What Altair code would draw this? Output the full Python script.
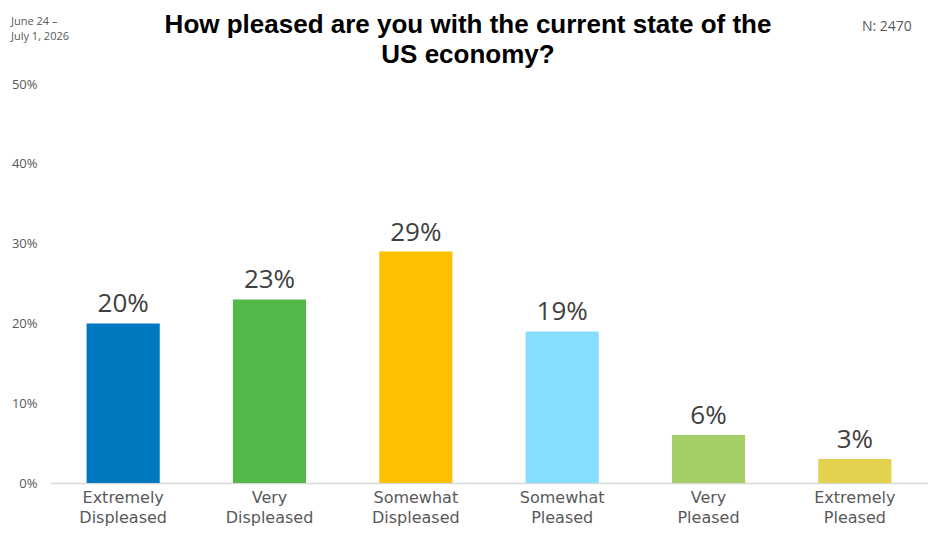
import altair as alt
import pandas as pd

categories = ["Extremely Displeased", "Very Displeased", "Somewhat Displeased",
              "Somewhat Pleased", "Very Pleased", "Extremely Pleased"]
values = [20, 23, 29, 19, 6, 3]
colors = ["#0079C1", "#52B848", "#FFC000", "#85DEFF", "#A3CF66", "#E2D24E"]
y_ticks = [0, 10, 20, 30, 40, 50]
title_lines = ["How pleased are you with the current state of the", "US economy?"]

df = pd.DataFrame({"category": categories, "value": values, "color": colors,
                   "label": [f"{v}%" for v in values]})

FONT = "Open Sans"

x = alt.X("category:N", sort=categories, title=None,
          scale=alt.Scale(paddingInner=0.5, paddingOuter=0.25),
          axis=alt.Axis(labelAngle=0, labelExpr="split(datum.label, ' ')",
                        labelFontSize=16, labelColor="#595959", labelFont="DejaVu Sans",
                        labelLineHeight=20, labelPadding=6, ticks=False,
                        domainColor="#D9D9D9", domainWidth=1.5, grid=False,
                        labelBaseline="top"))
y = alt.Y("value:Q", title=None,
          scale=alt.Scale(domain=[0, 50], nice=False),
          axis=alt.Axis(values=y_ticks, labelExpr="datum.value + '%'",
                        labelFontSize=13, labelColor="#595959", labelFont=FONT,
                        ticks=False, domain=False, grid=False, labelPadding=13))

base = alt.Chart(df)
bars = base.mark_bar().encode(x=x, y=y, color=alt.Color("color:N", scale=None))
labels = base.mark_text(fontSize=26, color="#404040", font=FONT, baseline="alphabetic",
                        dy=-11).encode(x=x, y=y, text="label:N")

date = alt.Chart(pd.DataFrame({"t": ["June 24 –\nJuly 1, 2026"]})).mark_text(
    fontSize=11, color="#595959", font=FONT, align="left", baseline="top",
    lineBreak="\n", lineHeight=15
).encode(x=alt.value(-39), y=alt.value(-68), text="t:N")
n_text = alt.Chart(pd.DataFrame({"t": ["N: 2470"]})).mark_text(
    fontSize=14, color="#595959", font=FONT, align="left", baseline="middle"
).encode(x=alt.value(812), y=alt.value(-57), text="t:N")
t1 = alt.Chart(pd.DataFrame({"t": [title_lines[0]]})).mark_text(
    fontSize=26, fontWeight="bold", color="#000000", font="Liberation Sans", align="center",
    baseline="alphabetic"
).encode(x=alt.value(418), y=alt.value(-51), text="t:N")
t2 = alt.Chart(pd.DataFrame({"t": [title_lines[1]]})).mark_text(
    fontSize=26, fontWeight="bold", color="#000000", font="Liberation Sans", align="center",
    baseline="alphabetic"
).encode(x=alt.value(418), y=alt.value(-21), text="t:N")

chart = alt.layer(bars, labels, t1, t2, date, n_text).properties(
    width=878, height=399,
    background="white",
    autosize=alt.AutoSizeParams(type="none"),
    padding={"left": 42, "top": 76, "right": 0, "bottom": 46},
).configure_view(stroke=None)

chart.save("out.html", embed_options={"renderer": "svg", "actions": False})
